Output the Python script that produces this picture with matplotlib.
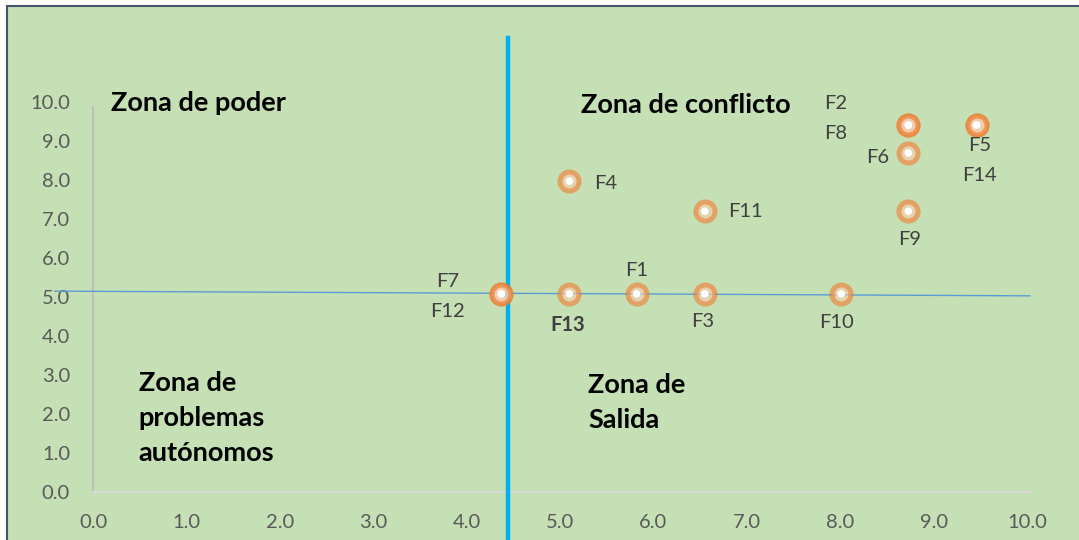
import matplotlib
matplotlib.use("Agg")
import matplotlib.pyplot as plt
from matplotlib.patches import Rectangle

# ---- data ----
names = ["F1", "F2", "F3", "F4", "F5", "F6", "F7", "F8", "F9", "F10", "F11", "F12", "F13", "F14"]
x_vals = [5.82, 8.73, 6.55, 5.10, 9.46, 8.73, 4.37, 8.73, 8.73, 8.01, 6.55, 4.37, 5.10, 9.46]
y_vals = [5.08, 9.41, 5.08, 7.97, 9.41, 8.69, 5.08, 9.41, 7.20, 5.08, 7.20, 5.08, 5.08, 9.41]
tick_vals = [0.0, 1.0, 2.0, 3.0, 4.0, 5.0, 6.0, 7.0, 8.0, 9.0, 10.0]
vline_x = 4.44
hline_x = [-0.41, 10.03]
hline_y = [5.15, 5.03]

# label offsets in pixels (dx, dy up)
offsets = {
    "F1": (0, 23), "F2": (-73, 22), "F3": (-2, -28), "F4": (36, -2), "F5": (3, -20),
    "F6": (-31, -4), "F7": (-54, 12), "F8": (-73, -8), "F9": (1, -28), "F10": (-5, -29),
    "F11": (41, 0), "F12": (-54, -18), "F13": (-2, -31), "F14": (3, -50),
}

FONT = ["Lato", "DejaVu Sans"]
plt.rcParams["font.family"] = FONT
GREEN = "#C5E0B4"

fig = plt.figure(figsize=(10.79, 5.40), dpi=100)
fig.patch.set_facecolor("white")
W, H = 1079, 540
frame = Rectangle((7 / W, -0.01), 1.1, (540 - 6) / H + 0.01, transform=fig.transFigure,
                  facecolor=GREEN, edgecolor="#44546A", linewidth=1.5, zorder=-5)
fig.patches.append(frame)

ax = fig.add_axes([93 / W, 48 / H, 934 / W, 390 / H])
ax.set_zorder(1)
ax.set_facecolor("none")
ax.set_xlim(0, 10)
ax.set_ylim(0, 10)
for s in ax.spines.values():
    s.set_visible(False)

# axis lines
ax.plot([0, 0], [0, 9.88], color="#BFBFBF", lw=1.5, clip_on=False, zorder=1)
ax.plot([0, 10.03], [0, 0], color="#D9D9D9", lw=1.5, clip_on=False, zorder=1)

ax.set_xticks(tick_vals)
ax.set_yticks(tick_vals)
ax.set_xticklabels([f"{v:.1f}" for v in tick_vals])
ax.set_yticklabels([f"{v:.1f}" for v in tick_vals])
ax.tick_params(length=0, labelsize=14.5, labelcolor="#595959")
ax.tick_params(axis="x", pad=16)
ax.tick_params(axis="y", pad=16.5)

# reference lines
ax.plot(hline_x, hline_y, color="#5B9BD5", lw=1.0, clip_on=False, zorder=2)
ax.plot([vline_x, vline_x], [-1.35, 11.64], color="#00B0F0", lw=3.2, clip_on=False, zorder=3)

# points
ax.scatter(x_vals, y_vals, s=190, facecolor="#F8CBAD", edgecolor="#ED7D31",
           linewidths=3.6, alpha=0.6, zorder=4, clip_on=False)
ax.scatter(x_vals, y_vals, s=30, facecolor="white", edgecolor="none", zorder=5)

for n, xv, yv in zip(names, x_vals, y_vals):
    dx, dy = offsets[n]
    ax.annotate(n, (xv, yv), xytext=(dx, dy), textcoords="offset pixels",
                ha="center", va="center", fontsize=14.5, color="#404040",
                fontweight="bold" if n == "F13" else "normal", zorder=6)

zkw = dict(fontsize=19.5, fontweight="bold", color="black", va="center", ha="left",
           linespacing=1.55)
ax.text(0.19, 9.97, "Zona de poder", **zkw)
ax.text(5.22, 9.92, "Zona de conflicto", **zkw)
ax.text(0.49, 1.90, "Zona de\nproblemas\nautónomos", **zkw)
ax.text(5.30, 2.29, "Zona de\nSalida", **zkw)

fig.savefig("out.png", dpi=100)
